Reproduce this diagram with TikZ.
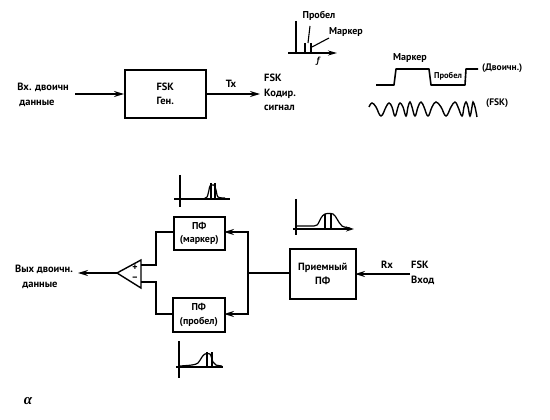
\documentclass[tikz,border=0pt]{standalone}
\usepackage{fontspec}
\setmainfont{PT Sans}
\usetikzlibrary{arrows.meta}
\tikzset{
  wire/.style={line width=1.5pt,line cap=butt},
  flow/.style={wire,-{Stealth[length=10pt,width=6pt]}},
  blockbox/.style={draw,line width=1.6pt,inner sep=0pt,align=center,anchor=north west,font=\bfseries\fontsize{10.5}{14.5}\selectfont},
  lbl/.style={inner sep=0pt,align=center,font=\bfseries\fontsize{10.5}{14.5}\selectfont},
  lbll/.style={inner sep=0pt,align=left,font=\bfseries\fontsize{10.5}{14.5}\selectfont},
  small/.style={inner sep=0pt,font=\bfseries\fontsize{8.5}{10}\selectfont},
  axis/.style={line width=1.2pt},
  curve/.style={line width=1.2pt,line join=round},
}
\begin{document}
\begin{tikzpicture}[x=1pt,y=-1pt]
\useasboundingbox (0,0) rectangle (550,420);
% --- transmitter
\node[blockbox,minimum width=81pt,minimum height=48pt] (gen) at (124,69) {FSK\\Ген.};
\node[lbl] (inlab) at (43,95) {Вх. двоичн\\\hspace*{-12pt}данные};
\node[lbll,anchor=west] (outlab) at (264,92.5) {FSK\\Кодир.\\сигнал};
\node[lbl] (tx) at (231,84) {Tx};
\coordinate (inS) at (75,94);
\coordinate (gW) at (124,94);
\coordinate (gE) at (205,94);
\coordinate (outE) at (260,94);
\draw[flow] (inS) -- (gW);
\draw[flow] (gE) -- (outE);
% --- spectrum
\node[small,font=\bfseries\fontsize{10}{11}\selectfont] (sp) at (319,16) {Пробел};
\node[small,font=\bfseries\fontsize{10}{11}\selectfont] (mk) at (346,32) {Маркер};
\node[inner sep=0pt,font=\bfseries\itshape\fontsize{9}{10}\selectfont] (ff) at (318,61) {f};
\draw[axis,line width=1.4pt,-{Stealth[length=9pt,width=5pt]}] (288,53) -- (337,53);
\draw[line width=1.4pt] (296,21) -- (296,53);
\draw[line width=1.6pt] (305,43) -- (305,53);
\draw[line width=1.6pt] (311,43) -- (311,53);
\draw[line width=1.1pt] (310,26) -- (308,43);
\draw[line width=1.1pt] (329,38) -- (312,47);
% --- binary waveform
\node[small,font=\bfseries\fontsize{10}{11}\selectfont] (mk2) at (410,58) {Маркер};
\node[small,font=\bfseries\fontsize{8.5}{10}\selectfont] (sp2) at (448,76) {Пробел};
\node[lbll,anchor=west,font=\bfseries\fontsize{9.5}{11}\selectfont] (bin) at (482,68) {(Двоичн.)};
\node[small,anchor=west,font=\bfseries\fontsize{9.5}{10}\selectfont] (fsklab) at (486,103) {(FSK)};
\draw[line width=1.6pt,line join=round] (376,85) -- (394,85) -- (396,69) -- (429,69) -- (431,85) -- (465,85) -- (466,69) -- (478,69);
\draw[line width=1.4pt] plot[smooth,tension=.7] coordinates {
 (369,107) (372,103) (376,107) (381,116) (386,107) (389,103) (392,107) (395,116) (398,107) (400,103) (403,107) (406,116) (408,107) (410,102) (412,107) (415,116) (418,107) (421,102) (424,107) (428,116) (432,107) (436,102) (441,107) (446,116) (451,107) (455,102) (458,107) (462,116) (464,107) (466,102) (468,107) (470,116) (472,107) (473,102) (475,107) (477,117)};
% --- receiver
\node[blockbox,minimum width=51pt,minimum height=33pt,font=\bfseries\fontsize{10}{13.5}\selectfont] (mf) at (173,216) {ПФ\\(маркер)};
\node[blockbox,minimum width=52pt,minimum height=34pt,font=\bfseries\fontsize{10}{13.5}\selectfont] (sf) at (172,297) {ПФ\\(пробел)};
\node[blockbox,minimum width=66pt,minimum height=50pt] (rf) at (289,248) {Приемный\\ПФ};
\node[lbl] (rx) at (387,265) {Rx};
\node[lbll,anchor=west] (fin) at (411,273) {FSK\\Вход};
\node[lbl] (outl) at (44,277) {Вых двоичн.\\\hspace*{-8pt}данные};
\node[inner sep=0pt,font=\fontsize{15}{15}\selectfont] (al) at (28,401) {\textit{\fontspec{Liberation Serif}[Scale=1]\bfseries α}};
% comparator
\draw[line width=1.4pt,line join=miter] (117,273) coordinate (tip) -- (141,260) -- (141,288) -- cycle;
\node[small,font=\bfseries\fontsize{10}{10}\selectfont] (plus) at (135,268) {+};
\node[small,font=\bfseries\fontsize{10}{10}\selectfont] (minus) at (135,279) {–};
\coordinate (cp) at (141,265);
\coordinate (cm) at (141,282);
\coordinate (outA) at (78,273);
\draw[flow] (tip) -- (outA);
\draw[wire] (cp) -- (156,265) -- (156,232) -- (173,232);
\draw[wire] (cm) -- (156,282) -- (156,314) -- (172,314);
\coordinate (bus) at (248,273);
\coordinate (rW) at (289,273);
\coordinate (rE) at (355,274);
\coordinate (rin) at (410,274);
\draw[wire] (rW) -- (bus);
\draw[flow] (248,232) -- (224,232);
\draw[flow] (248,314) -- (224,314);
\draw[wire] (248,231.3) -- (248,314.7);
\draw[flow] (rin) -- (rE);
% --- small plots
\draw[axis] (180,175) -- (180,207);
\draw[axis] (174,199) -- (230,199);
\draw[curve] plot[smooth,tension=.5] coordinates {(203,199) (207,197) (209,190) (210,186) (214,185) (216,190) (218,197) (225,198)};
\draw[line width=1.4pt] (211,183) -- (211,199) (215,183) -- (215,199);
\draw[axis] (296,199) -- (296,235);
\draw[axis,-{Stealth[length=8pt,width=5pt]}] (293,229) -- (354,229);
\draw[curve] plot[smooth,tension=.6] coordinates {(296,226) (310,226) (317,225) (321,218) (325,214) (333,214) (337,219) (342,226) (350,228)};
\draw[line width=1.2pt] (325,214) -- (325,229) (331,214) -- (331,229);
\draw[axis] (179,341) -- (179,378);
\draw[axis] (176,367) -- (223,367);
\draw[curve] plot[smooth,tension=.5] coordinates {(180,366) (192,365) (198,363) (202,357) (205,354) (210,354) (213,362) (216,365) (222,366)};
\draw[line width=1.4pt] (207,352) -- (207,367) (212,352) -- (212,367);
\end{tikzpicture}
\end{document}
